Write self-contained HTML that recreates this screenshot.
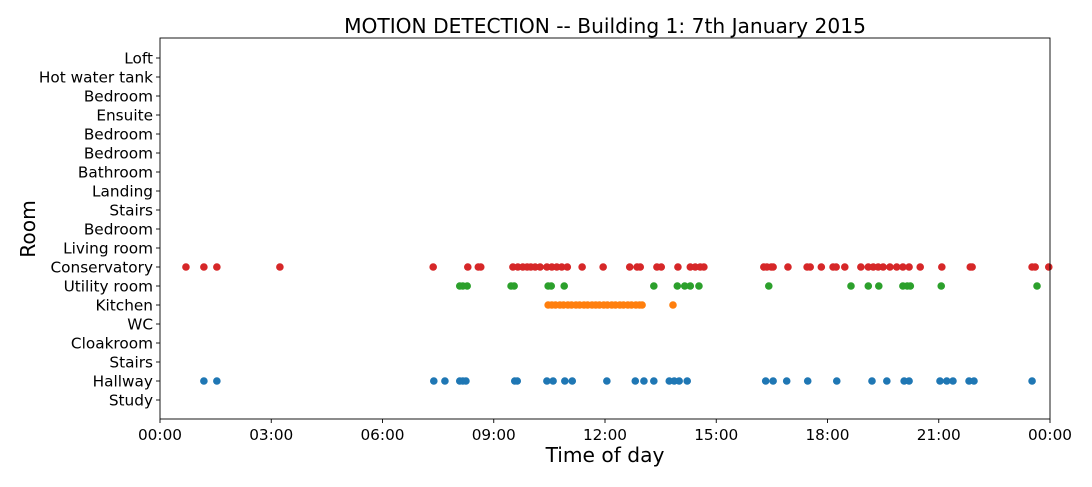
<!DOCTYPE html>
<html><head><meta charset="utf-8"><style>
body{margin:0;background:#fff;font-family:"Liberation Sans","DejaVu Sans",sans-serif}
svg text{font-family:"DejaVu Sans","Liberation Sans",sans-serif;fill:#000}
</style></head><body>
<svg id="chart" width="1092" height="482"></svg>
<script>
const rooms=["Study","Hallway","Stairs","Cloakroom","WC","Kitchen","Utility room","Conservatory","Living room","Bedroom","Stairs","Landing","Bathroom","Bedroom","Bedroom","Ensuite","Bedroom","Hot water tank","Loft"];
const xTickLabels=["00:00","03:00","06:00","09:00","12:00","15:00","18:00","21:00","00:00"];
const hallwayMin=[71,92,443,461,485,490,495,574,578,626,636,655,667,723,769,783,799,824,832,840,853,980,992,1014,1048,1095,1152,1176,1204,1212,1262,1273,1283,1309,1317,1411];
const kitchenMin=[628,634,640,647,653,660,666,673,679,686,692,699,705,711,718,724,731,737,744,750,757,763,770,776,780,830];
const utilityMin=[485,490,497,568,573,628,633,654,799,837,849,858,872,985,1118,1146,1163,1202,1209,1214,1264,1419];
const conservatoryMin=[42,71,92,194,442,498,515,519,571,579,587,594,600,607,615,626,634,642,650,659,683,717,760,772,777,804,811,838,858,866,874,880,977,982,989,992,1016,1047,1052,1070,1089,1094,1108,1134,1146,1154,1162,1170,1181,1192,1202,1212,1230,1265,1311,1314,1411,1416,1438];
const seriesDefs=[["hallway",1,hallwayMin,"#1f77b4"],["kitchen",5,kitchenMin,"#ff7f0e"],["utility-room",6,utilityMin,"#2ca02c"],["conservatory",7,conservatoryMin,"#d62728"]];
const NS="http://www.w3.org/2000/svg";
const svg=document.getElementById('chart');
const L=160,R=1050,T=38,B=419;
const xs=m=>L+(m/1440)*(R-L);
const ys=i=>400-i*19;
function el(t,a,p){const e=document.createElementNS(NS,t);for(const k in a)e.setAttribute(k,a[k]);(p||svg).appendChild(e);return e;}
seriesDefs.forEach(([name,idx,arr,col])=>{
  const g=el('g',{});
  
  
  arr.forEach(m=>{
    const c=el('circle',{cx:xs(m),cy:ys(idx),r:3.8,fill:col},g);
    
    
  });
});
const frame=el('rect',{x:L,y:T,width:R-L,height:B-T,fill:'none',stroke:'#000','stroke-width':0.9});


rooms.forEach((r,i)=>{
  el('line',{x1:L-4,x2:L,y1:ys(i),y2:ys(i),stroke:'#000','stroke-width':0.9});
  const t=el('text',{x:L-7,y:ys(i)+5.5,'text-anchor':'end','font-size':15.3});
  t.textContent=r;
  
  
});
xTickLabels.forEach((s,i)=>{
  const x=xs(i*180);
  el('line',{x1:x,x2:x,y1:B,y2:B+4,stroke:'#000','stroke-width':0.9});
  const t=el('text',{x:x,y:B+21,'text-anchor':'middle','font-size':15.3});
  t.textContent=s;
  
  
});
const ti=el('text',{x:(L+R)/2,y:33,'text-anchor':'middle','font-size':20.2});
ti.textContent="MOTION DETECTION -- Building 1: 7th January 2015";


const xl=el('text',{x:(L+R)/2,y:462,'text-anchor':'middle','font-size':20.2});
xl.textContent="Time of day";


const yl=el('text',{x:0,y:0,'text-anchor':'middle','font-size':20.2,transform:'translate(35,229) rotate(-90)'});
yl.textContent="Room";


</script>
</body></html>
